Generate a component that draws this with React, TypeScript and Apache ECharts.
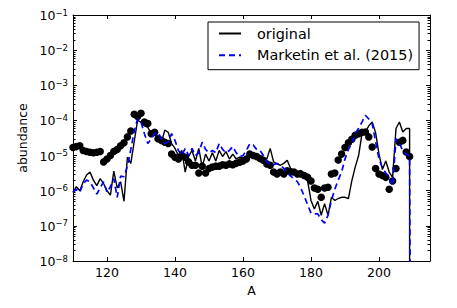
import React, { useEffect, useRef } from "react";
import * as echarts from "echarts";

// Mass numbers A = 110 ... 209
const massNumbers: number[] = Array.from({ length: 100 }, (_, i) => 110 + i);

// "original" (black solid line)
const originalValues: number[] = [
  9e-7, 1.3e-6, 1.0e-6, 1.8e-6, 2.8e-6, 3.4e-6, 2.0e-6, 1.4e-6, 2.2e-6, 1.6e-6,
  1.0e-6, 7.5e-7, 3.6e-6, 1.2e-6, 1.8e-6, 5e-7, 9e-6, 6e-6, 2.5e-5, 1.0e-4,
  9e-5, 7e-5, 6.4e-5, 4.2e-5, 4.5e-5, 3e-5, 2.4e-5, 5.3e-5, 4.6e-5, 2.2e-5,
  1.6e-5, 1e-5, 1.4e-5, 3.4e-6, 9.4e-6, 1.4e-5, 7e-6, 1.6e-5, 4.7e-6, 1.1e-5,
  7e-6, 1.2e-5, 7e-6, 1.4e-5, 9.4e-6, 1.3e-5, 8e-6, 1.1e-5, 8e-6, 9e-6,
  8.5e-6, 9e-6, 1.1e-5, 1.1e-5, 9.5e-6, 9e-6, 7.4e-6, 8e-6, 1.6e-5, 6.6e-6,
  5.8e-6, 5.3e-6, 6e-6, 7.4e-6, 4.3e-6, 3.8e-6, 3.4e-6, 3.8e-6, 2.4e-6, 1.9e-6,
  5.3e-7, 3e-7, 5e-7, 2e-7, 4.3e-7, 2e-7, 6.5e-7, 5.3e-7, 6e-7, 6.5e-7,
  6.5e-7, 6e-7, 1.9e-6, 4.7e-6, 1e-5, 4.2e-5, 4.7e-5, 7e-5, 9e-5, 4.5e-5,
  1.1e-5, 4e-6, 7e-6, 3.4e-6, 2.4e-6, 5.9e-5, 9e-5, 4.7e-5, 5.9e-5, 5.9e-5,
];

// "Marketin et al. (2015)" (blue dashed line)
const marketinValues: number[] = [
  9e-7, 1.1e-6, 9e-7, 1.6e-6, 2e-6, 1.8e-6, 1.2e-6, 8e-7, 1.2e-6, 1.8e-6,
  9e-7, 1.3e-6, 2.2e-6, 6.5e-7, 2.6e-6, 2.5e-6, 5e-6, 1.5e-5, 5e-5, 1.1e-4,
  9e-5, 4.2e-5, 2.2e-5, 3e-5, 4.2e-5, 4.6e-5, 3e-5, 2.2e-5, 2.4e-5, 4.2e-5,
  2.7e-5, 1.4e-5, 1e-5, 1.6e-5, 1e-5, 1.6e-5, 1e-5, 1.2e-5, 2.4e-5, 1.5e-5,
  1.2e-5, 1.4e-5, 1.2e-5, 2.2e-5, 1.5e-5, 1.2e-5, 1.4e-5, 1.8e-5, 1.2e-5, 9.4e-6,
  1e-5, 1.4e-5, 2.2e-5, 2e-5, 1.5e-5, 1.4e-5, 1e-5, 6.6e-6, 5.5e-6, 5.5e-6,
  6e-6, 5.3e-6, 4.3e-6, 3.4e-6, 2.6e-6, 2.2e-6, 1.8e-6, 1.2e-6, 7e-7, 4e-7,
  2.3e-7, 2.2e-7, 2.2e-7, 1.5e-7, 1.2e-7, 2e-7, 5.3e-7, 1.1e-6, 2e-6, 3.4e-6,
  8e-6, 1.5e-5, 2.2e-5, 4.2e-5, 6e-5, 9e-5, 1.4e-4, 1.1e-4, 8e-5, 2.5e-5,
  8e-6, 4.5e-6, 3.2e-6, 2.4e-6, 1.4e-6, 3e-5, 2.2e-5, 1.4e-5, 1.1e-5, 1e-5,
];

// solar r-process abundances (black dots)
const solarValues: number[] = [
  1.7e-5, 1.8e-5, 1.9e-5, 1.4e-5, 1.3e-5, 1.25e-5, 1.2e-5, 1.25e-5, 1.3e-5, 6.6e-6,
  8e-6, 1e-5, 1.3e-5, 1.5e-5, 1.9e-5, 2.3e-5, 3.4e-5, 5e-5, 1.5e-4, 1.3e-4,
  1.6e-4, 9e-5, 8.2e-5, 4.2e-5, 4.6e-5, 3e-5, 2.7e-5, 2.4e-5, 2.2e-5, 1.1e-5,
  9e-6, 8e-6, 1e-5, 9e-6, 6.6e-6, 5.3e-6, 5.3e-6, 3.2e-6, 5e-6, 3.2e-6,
  4.3e-6, 4.7e-6, 5e-6, 5e-6, 5.5e-6, 5.3e-6, 5.8e-6, 5.5e-6, 6e-6, 6.5e-6,
  7e-6, 8e-6, 1.1e-5, 1e-5, 9.4e-6, 8.2e-6, 7.4e-6, 5.8e-6, 5.3e-6, 3.4e-6,
  3e-6, 3.4e-6, 3e-6, 3.7e-6, 3.4e-6, 3.4e-6, 3e-6, 3e-6, 2.7e-6, 2.4e-6,
  1.9e-6, 1.2e-6, 1.1e-6, 6.5e-7, 1.2e-6, 1.25e-6, 3e-6, 3.2e-6, 7.5e-6, 1.1e-5,
  1.7e-5, 2.3e-5, 2.9e-5, 3.8e-5, 4.2e-5, 4.6e-5, 4.7e-5, 3.4e-5, 1.75e-5, 4.3e-6,
  3e-6, 2.7e-6, 2.4e-6, 1.1e-6, 1.9e-6, 4.3e-6, 2.4e-5, 2.7e-5, 1.27e-5, 9.4e-6,
];

// abundance drops to zero after the last nucleus (drawn below the axis floor)
const originalCutoff: [number, number] = [209, 1e-14];
const marketinCutoff: [number, number] = [209.4, 1e-14];

const xTicks = [120, 140, 160, 180, 200];
const yTicks = [1e-8, 1e-7, 1e-6, 1e-5, 1e-4, 1e-3, 1e-2, 1e-1];
const minorTicks: number[] = [];
for (let e = -8; e < -1; e++) for (let k = 2; k <= 9; k++) minorTicks.push(k * Math.pow(10, e));

const FONT = "DejaVu Sans";

export default function App() {
  const ref = useRef<HTMLDivElement>(null);
  useEffect(() => {
    if (!ref.current) return;
    const chart = echarts.init(ref.current, undefined, { renderer: "svg" });
    const yFormatter = (v: number) => {
      const e = Math.round(Math.log10(v));
      return "{b|10}{s|" + (e < 0 ? "\u2212" : "") + Math.abs(e) + "}";
    };
    const rich = {
      b: { fontSize: 12.5, fontFamily: FONT, color: "#000", lineHeight: 14, verticalAlign: "bottom" },
      s: { fontSize: 8.5, fontFamily: FONT, color: "#000", lineHeight: 9, verticalAlign: "top" },
    };
    const xAxisCommon = {
      type: "value",
      min: 110,
      max: 215,
      splitLine: { show: false },
      axisLine: { show: true, onZero: false, lineStyle: { color: "#000", width: 1 } },
      axisTick: { show: true, inside: true, length: 4, customValues: xTicks, lineStyle: { color: "#000" } },
    };
    const yAxisCommon = {
      type: "log",
      logBase: 10,
      min: 1e-8,
      max: 1e-1,
      splitLine: { show: false },
      axisLine: { show: true, onZero: false, lineStyle: { color: "#000", width: 1 } },
      axisTick: { show: true, inside: true, length: 4, customValues: yTicks, lineStyle: { color: "#000" } },
    };
    chart.setOption({
      animation: false,
      backgroundColor: "#fff",
      grid: { left: 73, right: 27, top: 15, bottom: 47 },
      xAxis: [
        {
          ...xAxisCommon,
          position: "bottom",
          name: "A",
          nameLocation: "middle",
          nameGap: 18,
          nameTextStyle: { fontFamily: FONT, fontSize: 12.5, color: "#000" },
          axisLabel: { show: true, margin: 5, customValues: xTicks, fontFamily: FONT, fontSize: 12.5, color: "#000" },
        },
        { ...xAxisCommon, position: "top", axisLabel: { show: false } },
      ],
      yAxis: [
        {
          ...yAxisCommon,
          position: "left",
          name: "abundance",
          nameLocation: "middle",
          nameGap: 30,
          nameTextStyle: { fontFamily: FONT, fontSize: 12.5, color: "#000" },
          axisLabel: { show: true, margin: 5, customValues: yTicks, formatter: yFormatter, rich },
        },
        { ...yAxisCommon, position: "right", axisLabel: { show: false } },
      ],
      legend: {
        orient: "vertical",
        left: 208,
        top: 22,
        padding: [3, 6, 6, 10],
        borderColor: "#000",
        borderWidth: 1,
        borderRadius: 0,
        backgroundColor: "#fff",
        itemWidth: 22,
        itemHeight: 14,
        itemGap: 4.7,
        itemStyle: { opacity: 0 },
        textStyle: { fontFamily: FONT, fontSize: 14.4, color: "#000", lineHeight: 17, padding: [0, 0, 0, 11] },
        data: ["original", "Marketin et al. (2015)"],
      },
      series: [
        {
          name: "solar",
          type: "scatter",
          symbol: "circle",
          symbolSize: 7.5,
          itemStyle: { color: "#000", opacity: 1 },
          data: massNumbers.map((a, i) => [a, solarValues[i]]),
          z: 3,
        },
        {
          name: "original",
          type: "line",
          symbol: "none",
          lineStyle: { color: "#000", width: 1.4 },
          itemStyle: { color: "#000" },
          data: [...massNumbers.map((a, i) => [a, originalValues[i]]), originalCutoff],
          z: 4,
        },
        {
          name: "Marketin et al. (2015)",
          type: "line",
          symbol: "none",
          lineStyle: { color: "#0000ff", width: 1.7, type: [6, 4] },
          itemStyle: { color: "#0000ff" },
          data: [...massNumbers.map((a, i) => [a, marketinValues[i]]), marketinCutoff],
          z: 5,
        },
        {
          name: "minor ticks",
          type: "custom",
          silent: true,
          data: minorTicks.map((v) => [110, v]),
          encode: { x: 0, y: 1 },
          renderItem: (params: any, api: any) => {
            const cs = params.coordSys;
            const y = Math.round(api.coord([110, api.value(1)])[1]) + 0.5;
            return {
              type: "group",
              children: [
                { type: "line", shape: { x1: cs.x, y1: y, x2: cs.x + 2.5, y2: y }, style: { stroke: "#000", lineWidth: 1 } },
                { type: "line", shape: { x1: cs.x + cs.width - 2.5, y1: y, x2: cs.x + cs.width, y2: y }, style: { stroke: "#000", lineWidth: 1 } },
              ],
            };
          },
          z: 6,
        },
      ],
    });
    return () => chart.dispose();
  }, []);
  return <div ref={ref} style={{ width: 457, height: 308, position: "absolute", left: 0, top: 0 }} />;
}
